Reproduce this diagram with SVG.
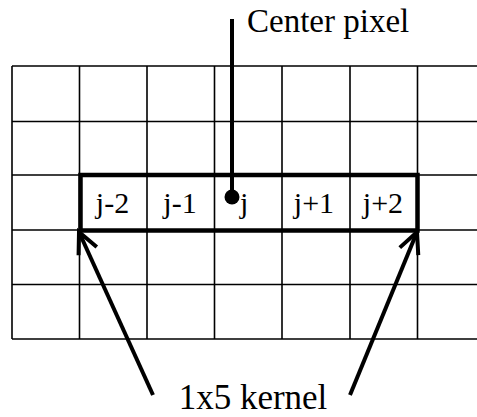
<svg xmlns="http://www.w3.org/2000/svg" width="477" height="417" viewBox="0 0 477 417">
<style>
.grid{stroke:#000;stroke-width:1.6;fill:none}
.thick{stroke:#000;stroke-width:4.5;fill:none}
.lbl{font-family:"Liberation Serif","Times New Roman",serif;fill:#000}
</style>
<defs>
<marker id="arr" markerUnits="userSpaceOnUse" markerWidth="40" markerHeight="40" viewBox="-30 -20 40 40" refX="0" refY="0" orient="auto">
<path d="M-21,-10 L0,0 L-21,10" fill="none" stroke="#000" stroke-width="4"/>
</marker>
</defs>
<rect width="477" height="417" fill="#fff"/>
<g id="grid">
<path class="grid" d="M12,66H477M12,121.5H477M12,175H477M12,230H477M12,284.5H477M12,339H477"/>
<path class="grid" d="M12,66V339M79.5,66V339M147,66V339M214.5,66V339M282,66V339M350,66V339M417.5,66V339"/>
</g>
<g id="kernel">
<rect class="thick" x="80.5" y="175" width="337" height="55.5"/>
<text class="lbl" x="112.5" y="213" font-size="30" text-anchor="middle">j-2</text>
<text class="lbl" x="180" y="213" font-size="30" text-anchor="middle">j-1</text>
<text class="lbl" x="240" y="213" font-size="30">j</text>
<text class="lbl" x="314" y="213" font-size="30" text-anchor="middle">j+1</text>
<text class="lbl" x="383" y="213" font-size="30" text-anchor="middle">j+2</text>
</g>
<g id="center-pixel">
<text class="lbl" x="247" y="32" font-size="33">Center pixel</text>
<circle cx="232" cy="197" r="7.5" fill="#000"/>
</g>
<g id="kernel-label">
<text class="lbl" x="253" y="409" font-size="35" text-anchor="middle">1x5 kernel</text>
</g>
<g id="connectors">
<line x1="232" y1="19" x2="232" y2="197" stroke="#000" stroke-width="4"/>
<line x1="153" y1="395" x2="79" y2="232" stroke="#000" stroke-width="4" marker-end="url(#arr)"/>
<line x1="350" y1="395" x2="417" y2="232" stroke="#000" stroke-width="4" marker-end="url(#arr)"/>
</g>
</svg>
